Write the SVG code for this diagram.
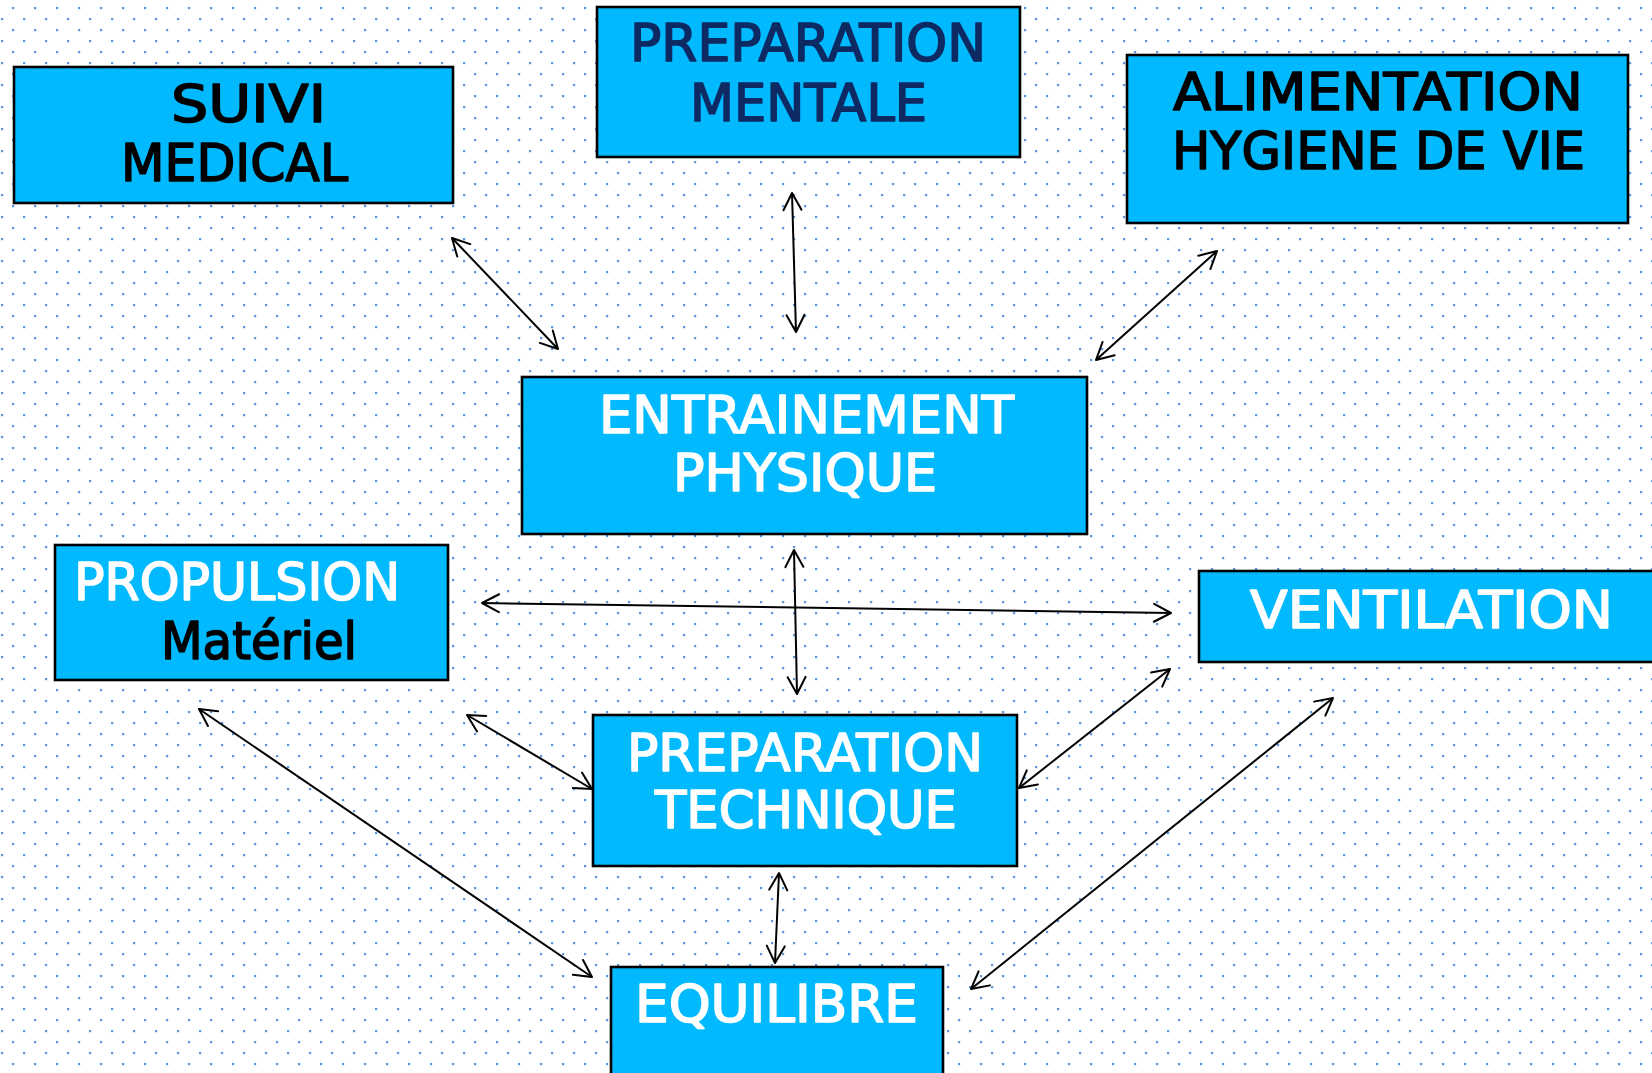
<svg xmlns="http://www.w3.org/2000/svg" width="1652" height="1073" viewBox="0 0 1652 1073">
<defs>
<pattern id="dots" x="0" y="0" width="22" height="22" patternUnits="userSpaceOnUse">
<rect x="12" y="7" width="2.2" height="2.2" fill="#5b93dc"/>
<rect x="1" y="18" width="2.2" height="2.2" fill="#5b93dc"/>
</pattern>
<marker id="ah" markerUnits="userSpaceOnUse" markerWidth="22" markerHeight="22" refX="19" refY="10" orient="auto-start-reverse" overflow="visible">
<path d="M2,1 L19,10 L2,19" fill="none" stroke="#000" stroke-width="2" stroke-linecap="round" stroke-linejoin="round"/>
</marker>
<style>
.box{fill:#00b9ff;stroke:#000;stroke-width:2.6}
.t{font-family:"DejaVu Sans","Liberation Sans",sans-serif;font-weight:normal;font-size:51px;stroke-width:1.6;stroke-linejoin:round}
.k{fill:#000;stroke:#000}
.w{fill:#fff;stroke:#fff}
.n{fill:#0d2a63;stroke:#0d2a63}
.c{fill:none;stroke:#000;stroke-width:2;marker-start:url(#ah);marker-end:url(#ah)}
</style>
</defs>
<rect width="1652" height="1073" fill="#fff"/>
<rect width="1652" height="1073" fill="url(#dots)"/>

<g id="suivi-medical">
<rect class="box" x="14" y="67" width="439" height="136"/>
<text class="t k" x="171" y="122" textLength="155" lengthAdjust="spacingAndGlyphs">SUIVI</text>
<text class="t k" x="121" y="181" textLength="227" lengthAdjust="spacingAndGlyphs">MEDICAL</text>
</g>

<g id="preparation-mentale">
<rect class="box" x="597" y="7" width="423" height="150"/>
<text class="t n" x="630" y="61" textLength="356" lengthAdjust="spacingAndGlyphs">PREPARATION</text>
<text class="t n" x="690" y="121" textLength="237" lengthAdjust="spacingAndGlyphs">MENTALE</text>
</g>

<g id="alimentation">
<rect class="box" x="1127" y="55" width="501" height="168"/>
<text class="t k" x="1173" y="110" textLength="410" lengthAdjust="spacingAndGlyphs">ALIMENTATION</text>
<text class="t k" x="1172" y="169" textLength="413" lengthAdjust="spacingAndGlyphs">HYGIENE DE VIE</text>
</g>

<g id="entrainement-physique">
<rect class="box" x="522" y="377" width="565" height="157"/>
<text class="t w" x="599" y="433" textLength="415" lengthAdjust="spacingAndGlyphs">ENTRAINEMENT</text>
<text class="t w" x="673" y="491" textLength="264" lengthAdjust="spacingAndGlyphs">PHYSIQUE</text>
</g>

<g id="propulsion">
<rect class="box" x="55" y="545" width="393" height="135"/>
<text class="t w" x="74" y="600" textLength="326" lengthAdjust="spacingAndGlyphs">PROPULSION</text>
<text class="t k" x="161" y="659" textLength="196" lengthAdjust="spacingAndGlyphs">Matériel</text>
</g>

<g id="ventilation">
<rect class="box" x="1199" y="571" width="470" height="91"/>
<text class="t w" x="1250" y="628" textLength="363" lengthAdjust="spacingAndGlyphs">VENTILATION</text>
</g>

<g id="preparation-technique">
<rect class="box" x="593" y="715" width="424" height="151"/>
<text class="t w" x="627" y="771" textLength="356" lengthAdjust="spacingAndGlyphs">PREPARATION</text>
<text class="t w" x="655" y="828" textLength="302" lengthAdjust="spacingAndGlyphs">TECHNIQUE</text>
</g>

<g id="equilibre">
<rect class="box" x="611" y="967" width="332" height="140"/>
<text class="t w" x="635" y="1022" textLength="283" lengthAdjust="spacingAndGlyphs">EQUILIBRE</text>
</g>

<g id="connectors">
<line class="c" x1="452" y1="238" x2="558" y2="349"/>
<line class="c" x1="792" y1="193" x2="796" y2="332"/>
<line class="c" x1="1217" y1="251" x2="1096" y2="360"/>
<line class="c" x1="794" y1="550" x2="797" y2="694"/>
<line class="c" x1="482" y1="603" x2="1171" y2="613"/>
<line class="c" x1="467" y1="715" x2="592" y2="789"/>
<line class="c" x1="199" y1="709" x2="592" y2="977"/>
<line class="c" x1="1170" y1="669" x2="1019" y2="788"/>
<line class="c" x1="1333" y1="698" x2="971" y2="989"/>
<line class="c" x1="779" y1="873" x2="775" y2="963"/>
</g>
</svg>
